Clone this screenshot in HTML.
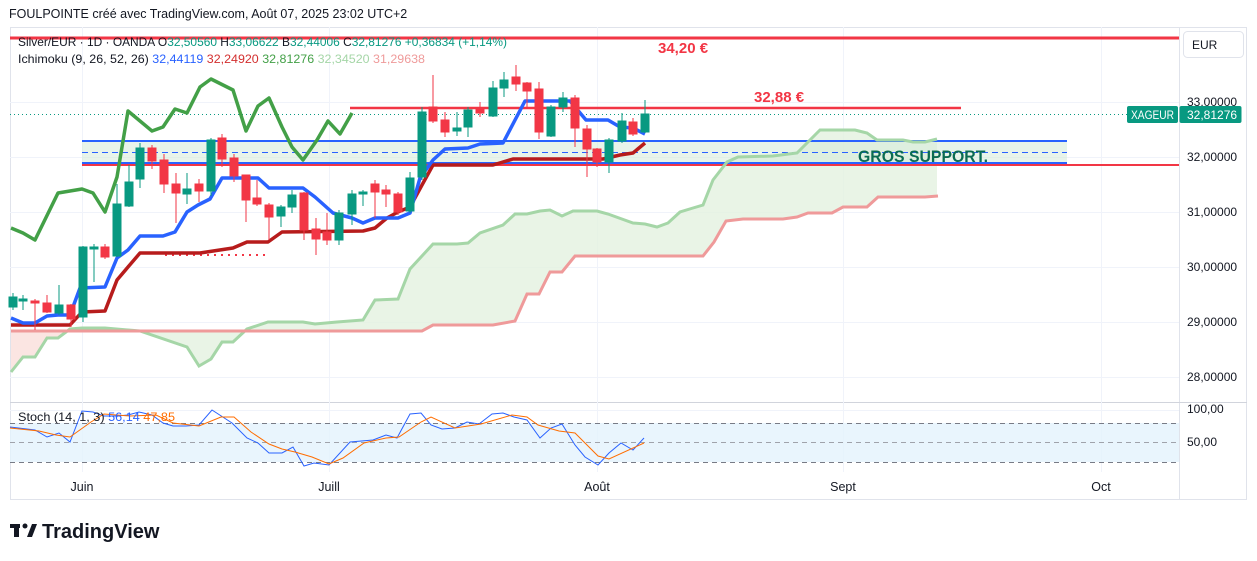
<!DOCTYPE html>
<html><head><meta charset="utf-8"><style>
html,body{margin:0;padding:0;background:#fff;width:1257px;height:561px;overflow:hidden;font-family:"Liberation Sans",sans-serif}
</style></head><body>
<svg width="1257" height="561" xmlns="http://www.w3.org/2000/svg" font-family="Liberation Sans, sans-serif">
<text x="9" y="18" font-size="12.5" fill="#131722">FOULPOINTE créé avec TradingView.com, Août 07, 2025 23:02 UTC+2</text>
<rect x="10.5" y="27.5" width="1236" height="472" fill="#fff" stroke="#e0e3eb"/>
<line x1="1179.5" y1="27" x2="1179.5" y2="500" stroke="#e0e3eb"/>
<line x1="10" y1="402.5" x2="1247" y2="402.5" stroke="#d1d4dc"/>
<g stroke="#f0f3fa" stroke-width="1">
<line x1="10" y1="102.5" x2="1179" y2="102.5"/><line x1="10" y1="157.5" x2="1179" y2="157.5"/>
<line x1="10" y1="212.5" x2="1179" y2="212.5"/><line x1="10" y1="267.5" x2="1179" y2="267.5"/>
<line x1="10" y1="322.5" x2="1179" y2="322.5"/><line x1="10" y1="377.5" x2="1179" y2="377.5"/>
<line x1="10" y1="410.5" x2="1179" y2="410.5"/>
<line x1="82.5" y1="27" x2="82.5" y2="472"/><line x1="329.5" y1="27" x2="329.5" y2="472"/>
<line x1="597.5" y1="27" x2="597.5" y2="472"/><line x1="843.5" y1="27" x2="843.5" y2="472"/>
<line x1="1101.5" y1="27" x2="1101.5" y2="472"/>
</g>
<polygon points="11,372 23,357 35,357 47,338 58,338 70,329 82,328 82,331 11,331" fill="#f8d3cf" opacity="0.6"/>
<polygon points="82,328 105,328 140,331 187,347 199,366 211,359 222,342 233,342 247,329 268,322 303,322 315,324 337,322 363,320 375,300 398,299 410,269 433,244 457,244 468,243 480,233 503,225 515,214 527,214 540,211 550,210 562,216 573,211 597,211 608,214 633,223 645,224 657,227 668,223 680,212 693,208 703,205 713,180 727,162 738,157 773,156 797,153 820,130 855,130 867,133 877,140 903,140 913,142 925,142 937,139 937,196 925,197 878,197 867,207 843,207 832,213 808,213 797,217 783,219 743,219 726,221 714,242 703,256 575,256 562,272 550,272 539,294 527,294 515,321 493,325 433,325 422,331 82,331" fill="#e3f1e0" opacity="0.8"/>
<rect x="82" y="141" width="985" height="23" fill="#d6ebd8" opacity="0.55"/>
<line x1="82" y1="141" x2="1067" y2="141" stroke="#2962ff" stroke-width="2"/>
<line x1="82" y1="152.5" x2="1067" y2="152.5" stroke="#2962ff" stroke-width="1" stroke-dasharray="6,4"/>
<line x1="82" y1="163" x2="1067" y2="163" stroke="#2962ff" stroke-width="2"/>
<line x1="82" y1="165" x2="1179" y2="165" stroke="#f23645" stroke-width="2"/>
<polyline points="11,372 23,357 35,357 47,338 58,338 70,329 82,328 105,328 140,331 187,347 199,366 211,359 222,342 233,342 247,329 268,322 303,322 315,324 337,322 363,320 375,300 398,299 410,269 433,244 457,244 468,243 480,233 503,225 515,214 527,214 540,211 550,210 562,216 573,211 597,211 608,214 633,223 645,224 657,227 668,223 680,212 693,208 703,205 713,180 727,162 738,157 773,156 797,153 820,130 855,130 867,133 877,140 903,140 913,142 925,142 937,139" fill="none" stroke="#a5d6a7" stroke-width="3"/>
<polyline points="11,331 422,331 433,325 493,325 515,321 527,294 539,294 550,272 562,272 575,256 703,256 714,242 726,221 743,219 783,219 797,217 808,213 832,213 843,207 867,207 878,197 925,197 938,196" fill="none" stroke="#ef9a9a" stroke-width="3"/>
<line x1="10" y1="38" x2="1179" y2="38" stroke="#f23645" stroke-width="3"/>
<line x1="350" y1="108" x2="961" y2="108" stroke="#f23645" stroke-width="2.5"/>
<line x1="10" y1="114.5" x2="1127" y2="114.5" stroke="#089981" stroke-width="1" stroke-dasharray="1,3"/>
<line x1="165" y1="255" x2="268" y2="255" stroke="#f23645" stroke-width="2" stroke-dasharray="2,5"/>
<text x="658" y="53" font-size="15" font-weight="bold" fill="#f23645">34,20 €</text>
<text x="754" y="102" font-size="15" font-weight="bold" fill="#f23645">32,88 €</text>
<text x="858" y="162" font-size="17" font-weight="bold" fill="#0b6b52" textLength="130" lengthAdjust="spacingAndGlyphs">GROS SUPPORT.</text>
<polyline points="11,228 23,233 35,240 58,193 82,189 93,193 105,212 117,177 128,111 152,131 163,127 175,109 187,113 200,87 211,79 233,90 246,131 258,106 269,98 282,127 292,147 303,160 317,140 328,121 340,134 352,113" fill="none" stroke="#43a047" stroke-width="3.5" stroke-linejoin="round"/>
<polyline points="11,325 70,325 82,312 105,311 117,280 128,267 140,253 200,253 233,248 247,242 268,242 282,232 363,231 375,228 387,218 398,212 410,207 422,185 433,165 493,165 513,159 603,159 620,155 633,153 645,143" fill="none" stroke="#b71c1c" stroke-width="3.5" stroke-linejoin="round"/>
<polyline points="11,318 23,323 35,323 47,316 58,315 70,315 80,288 105,287 117,258 128,250 140,236 163,236 175,232 187,212 198,205 210,199 222,178 258,178 269,188 303,188 315,197 333,213 352,218 363,223 375,218 398,218 410,213 420,178 433,160 445,149 468,148 480,144 503,143 525,101 570,101 586,120 608,120 620,127 633,128 645,134" fill="none" stroke="#2962ff" stroke-width="3.5" stroke-linejoin="round"/>
<g>
<g stroke="#089981" fill="#089981">
<line x1="13" y1="293" x2="13" y2="310"/><rect x="9" y="297" width="8" height="10"/>
<line x1="23" y1="295" x2="23" y2="310"/><rect x="19" y="299" width="8" height="2"/>
<line x1="59" y1="285" x2="59" y2="315"/><rect x="55" y="305" width="8" height="8"/>
<line x1="83" y1="246" x2="83" y2="322"/><rect x="79" y="247" width="8" height="70"/>
<line x1="94" y1="244" x2="94" y2="282"/><rect x="90" y="247" width="8" height="2"/>
<line x1="117" y1="184" x2="117" y2="257"/><rect x="113" y="204" width="8" height="52"/>
<line x1="129" y1="165" x2="129" y2="207"/><rect x="125" y="182" width="8" height="24"/>
<line x1="140" y1="143" x2="140" y2="188"/><rect x="136" y="148" width="8" height="31"/>
<line x1="187" y1="173" x2="187" y2="204"/><rect x="183" y="189" width="8" height="5"/>
<line x1="211" y1="138" x2="211" y2="196"/><rect x="207" y="140" width="8" height="51"/>
<line x1="281" y1="205" x2="281" y2="227"/><rect x="277" y="207" width="8" height="9"/>
<line x1="292" y1="190" x2="292" y2="213"/><rect x="288" y="195" width="8" height="12"/>
<line x1="339" y1="210" x2="339" y2="245"/><rect x="335" y="213" width="8" height="27"/>
<line x1="352" y1="190" x2="352" y2="225"/><rect x="348" y="194" width="8" height="20"/>
<line x1="363" y1="190" x2="363" y2="206"/><rect x="359" y="192" width="8" height="2"/>
<line x1="410" y1="172" x2="410" y2="213"/><rect x="406" y="178" width="8" height="33"/>
<line x1="422" y1="107" x2="422" y2="180"/><rect x="418" y="112" width="8" height="65"/>
<line x1="457" y1="112" x2="457" y2="136"/><rect x="453" y="128" width="8" height="3"/>
<line x1="468" y1="107" x2="468" y2="137"/><rect x="464" y="110" width="8" height="17"/>
<line x1="493" y1="81" x2="493" y2="117"/><rect x="489" y="88" width="8" height="28"/>
<line x1="504" y1="72" x2="504" y2="97"/><rect x="500" y="80" width="8" height="8"/>
<line x1="551" y1="105" x2="551" y2="137"/><rect x="547" y="107" width="8" height="29"/>
<line x1="563" y1="92" x2="563" y2="112"/><rect x="559" y="98" width="8" height="9"/>
<line x1="609" y1="138" x2="609" y2="173"/><rect x="605" y="140" width="8" height="22"/>
<line x1="622" y1="113" x2="622" y2="143"/><rect x="618" y="121" width="8" height="20"/>
<line x1="645" y1="100" x2="645" y2="133"/><rect x="641" y="114" width="8" height="18"/>
</g>
<g stroke="#f23645" fill="#f23645">
<line x1="35" y1="299" x2="35" y2="330"/><rect x="31" y="301" width="8" height="2"/>
<line x1="47" y1="295" x2="47" y2="313"/><rect x="43" y="303" width="8" height="9"/>
<line x1="71" y1="304" x2="71" y2="327"/><rect x="67" y="305" width="8" height="14"/>
<line x1="105" y1="244" x2="105" y2="259"/><rect x="101" y="247" width="8" height="10"/>
<line x1="152" y1="145" x2="152" y2="169"/><rect x="148" y="148" width="8" height="13"/>
<line x1="164" y1="154" x2="164" y2="193"/><rect x="160" y="160" width="8" height="24"/>
<line x1="176" y1="173" x2="176" y2="223"/><rect x="172" y="184" width="8" height="9"/>
<line x1="199" y1="179" x2="199" y2="202"/><rect x="195" y="184" width="8" height="7"/>
<line x1="222" y1="134" x2="222" y2="167"/><rect x="218" y="138" width="8" height="21"/>
<line x1="234" y1="154" x2="234" y2="182"/><rect x="230" y="158" width="8" height="18"/>
<line x1="246" y1="175" x2="246" y2="222"/><rect x="242" y="175" width="8" height="25"/>
<line x1="257" y1="180" x2="257" y2="206"/><rect x="253" y="198" width="8" height="6"/>
<line x1="269" y1="203" x2="269" y2="240"/><rect x="265" y="205" width="8" height="12"/>
<line x1="304" y1="192" x2="304" y2="240"/><rect x="300" y="193" width="8" height="37"/>
<line x1="316" y1="218" x2="316" y2="255"/><rect x="312" y="229" width="8" height="10"/>
<line x1="327" y1="213" x2="327" y2="245"/><rect x="323" y="232" width="8" height="8"/>
<line x1="375" y1="180" x2="375" y2="218"/><rect x="371" y="184" width="8" height="8"/>
<line x1="386" y1="185" x2="386" y2="207"/><rect x="382" y="190" width="8" height="4"/>
<line x1="398" y1="192" x2="398" y2="215"/><rect x="394" y="194" width="8" height="18"/>
<line x1="433" y1="75" x2="433" y2="123"/><rect x="429" y="107" width="8" height="14"/>
<line x1="445" y1="112" x2="445" y2="137"/><rect x="441" y="120" width="8" height="12"/>
<line x1="480" y1="102" x2="480" y2="117"/><rect x="476" y="108" width="8" height="5"/>
<line x1="516" y1="65" x2="516" y2="91"/><rect x="512" y="77" width="8" height="7"/>
<line x1="527" y1="82" x2="527" y2="107"/><rect x="523" y="83" width="8" height="8"/>
<line x1="539" y1="82" x2="539" y2="139"/><rect x="535" y="89" width="8" height="43"/>
<line x1="575" y1="95" x2="575" y2="147"/><rect x="571" y="98" width="8" height="30"/>
<line x1="587" y1="125" x2="587" y2="177"/><rect x="583" y="129" width="8" height="20"/>
<line x1="597" y1="148" x2="597" y2="167"/><rect x="593" y="149" width="8" height="13"/>
<line x1="633" y1="118" x2="633" y2="136"/><rect x="629" y="122" width="8" height="12"/>
</g>
</g>
<text x="18" y="46" font-size="12" fill="#131722" textLength="489" lengthAdjust="spacingAndGlyphs">Silver/EUR · 1D · OANDA  O<tspan fill="#089981">32,50560</tspan>  H<tspan fill="#089981">33,06622</tspan>  B<tspan fill="#089981">32,44006</tspan>  C<tspan fill="#089981">32,81276  +0,36834 (+1,14%)</tspan></text>
<text x="18" y="63" font-size="12" fill="#131722" textLength="407" lengthAdjust="spacingAndGlyphs">Ichimoku (9, 26, 52, 26)  <tspan fill="#2962ff">32,44119</tspan>  <tspan fill="#d32f2f">32,24920</tspan>  <tspan fill="#43a047">32,81276</tspan>  <tspan fill="#a5d6a7">32,34520</tspan>  <tspan fill="#ef9a9a">31,29638</tspan></text>
<rect x="1183.5" y="31.5" width="60" height="26" rx="4" fill="#fff" stroke="#e0e3eb"/>
<text x="1192" y="49" font-size="12" fill="#131722">EUR</text>
<g font-size="12" fill="#131722">
<text x="1187" y="106">33,00000</text><text x="1187" y="161">32,00000</text>
<text x="1187" y="216">31,00000</text><text x="1187" y="271">30,00000</text>
<text x="1187" y="326">29,00000</text><text x="1187" y="381">28,00000</text>
<text x="1187" y="413">100,00</text><text x="1187" y="446">50,00</text>
</g>
<rect x="1127" y="106" width="51" height="17" rx="2" fill="#089981"/>
<rect x="1179.5" y="106" width="62" height="17" rx="2" fill="#089981"/>
<text x="1131" y="119" font-size="11.5" fill="#fff" textLength="43" lengthAdjust="spacingAndGlyphs">XAGEUR</text>
<text x="1187" y="119" font-size="12" fill="#fff">32,81276</text>
<rect x="10" y="423" width="1169" height="39" fill="#e3f2fd" opacity="0.8"/>
<g stroke="#787b86" stroke-dasharray="5,4" stroke-width="1">
<line x1="10" y1="423.5" x2="1179" y2="423.5"/><line x1="10" y1="442.5" x2="1179" y2="442.5" stroke="#a0a3ab"/><line x1="10" y1="462.5" x2="1179" y2="462.5"/>
</g>
<polyline points="10,427 35,430 47,437 59,433 70,442 82,411 93,412 104,416 117,416 128,415 139,412 152,415 163,423 173,426 186,426 199,425 212,410 232,423 247,438 258,443 269,453 282,453 293,447 304,466 314,463 329,465 350,442 373,440 386,435 397,438 410,414 421,413 431,425 442,429 455,428 467,422 479,424 492,414 503,413 514,417 527,420 540,438 551,428 562,424 575,445 585,457 598,465 609,453 621,443 633,450 644,438" fill="none" stroke="#2962ff" stroke-width="1"/>
<polyline points="10,428 39,431 56,435 70,437 91,422 104,414 130,416 156,415 173,423 199,426 221,417 234,417 251,432 269,444 282,449 295,452 312,457 329,464 343,458 364,443 386,438 399,437 421,422 431,417 455,428 481,424 512,415 527,417 538,425 559,431 575,433 598,456 609,459 644,443" fill="none" stroke="#ff6d00" stroke-width="1"/>
<text x="18" y="421" font-size="12" fill="#131722" textLength="157" lengthAdjust="spacingAndGlyphs">Stoch (14, 1, 3)  <tspan fill="#2962ff">56,14</tspan>  <tspan fill="#ff6d00">47,85</tspan></text>
<g font-size="12.5" fill="#131722" text-anchor="middle" font-weight="500">
<text x="82" y="491">Juin</text><text x="329" y="491">Juill</text><text x="597" y="491">Août</text><text x="843" y="491">Sept</text><text x="1101" y="491">Oct</text>
</g>
<g fill="#131722">
<rect x="10" y="524" width="10" height="4"/><rect x="14" y="524" width="5" height="13"/>
<circle cx="25" cy="526" r="2.5"/>
<polygon points="27,537 32,524 37,524 32,537"/>
</g>
<text x="42" y="538" font-size="20" font-weight="bold" fill="#131722">TradingView</text>
</svg>
</body></html>
